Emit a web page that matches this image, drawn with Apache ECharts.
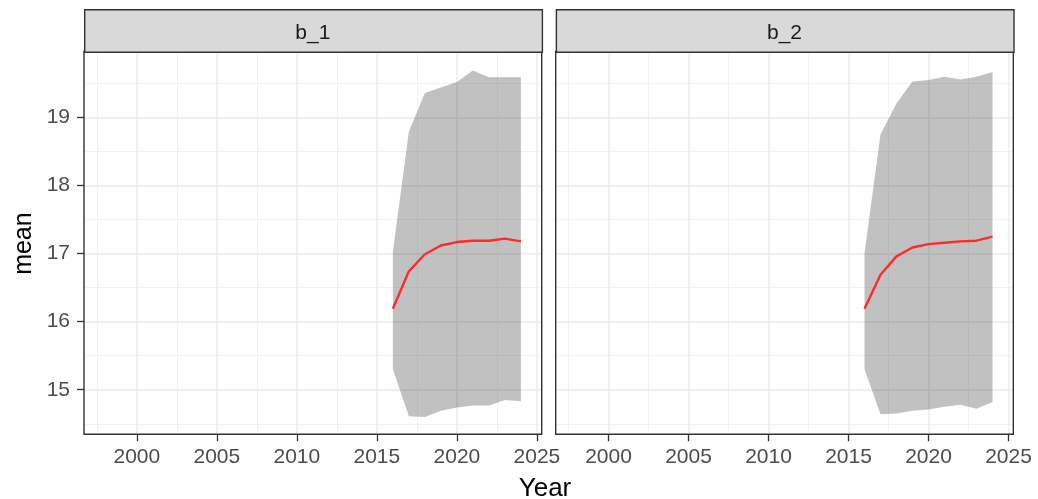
<!DOCTYPE html>
<html>
<head>
<meta charset="utf-8">
<script src="https://cdn.jsdelivr.net/npm/echarts@6/dist/echarts.min.js"></script>
<style>
html,body{margin:0;padding:0;background:#fff;}
#c{width:1038px;height:499px;}
</style>
</head>
<body>
<div id="c"></div>
<script>
// ---- data ----
const panels = ['b_1', 'b_2'];
const years = [2016, 2017, 2018, 2019, 2020, 2021, 2022, 2023, 2024];
const b1_mean  = [16.19, 16.74, 16.99, 17.12, 17.17, 17.19, 17.19, 17.22, 17.18];
const b1_lower = [15.30, 14.61, 14.60, 14.69, 14.74, 14.77, 14.77, 14.85, 14.83];
const b1_upper = [17.03, 18.79, 19.36, 19.44, 19.52, 19.69, 19.59, 19.59, 19.59];
const b2_mean  = [16.19, 16.69, 16.96, 17.09, 17.14, 17.16, 17.18, 17.19, 17.25];
const b2_lower = [15.30, 14.64, 14.65, 14.69, 14.71, 14.75, 14.78, 14.72, 14.82];
const b2_upper = [17.01, 18.75, 19.21, 19.53, 19.55, 19.60, 19.56, 19.60, 19.67];
const xTicks = [2000, 2005, 2010, 2015, 2020, 2025];
const xMinor = [1997.5, 2002.5, 2007.5, 2012.5, 2017.5, 2022.5];
const yTicks = [15, 16, 17, 18, 19];
const yMinor = [14.5, 15.5, 16.5, 17.5, 18.5, 19.5];
const X_MIN = 1996.7, X_MAX = 2025.3;
const Y_MIN = 14.345, Y_MAX = 19.97;

const means = [b1_mean, b2_mean];
const lowers = [b1_lower, b2_lower];
const uppers = [b1_upper, b2_upper];

const FONT = 'Liberation Sans, Arial, sans-serif';
const grids = [
  {left: 84, top: 51.5, width: 457.7, height: 382.8},
  {left: 555.7, top: 51.5, width: 457.6, height: 382.8}
];

const xAxes = [], yAxes = [];
grids.forEach((g, gi) => {
  // minor axes (gridlines only)
  xAxes.push({type: 'value', gridIndex: gi, position: 'bottom', min: X_MIN, max: X_MAX,
    axisLine: {show: false}, axisTick: {show: false, customValues: xMinor},
    axisLabel: {show: false, customValues: xMinor},
    splitLine: {show: true, lineStyle: {color: '#F2F2F2', width: 1}}});
  yAxes.push({type: 'value', gridIndex: gi, position: 'left', min: Y_MIN, max: Y_MAX,
    axisLine: {show: false}, axisTick: {show: false, customValues: yMinor},
    axisLabel: {show: false, customValues: yMinor},
    splitLine: {show: true, lineStyle: {color: '#F2F2F2', width: 1}}});
});
grids.forEach((g, gi) => {
  xAxes.push({type: 'value', gridIndex: gi, position: 'bottom', min: X_MIN, max: X_MAX,
    axisLine: {show: false},
    axisTick: {show: true, length: 7, customValues: xTicks, lineStyle: {color: '#333333', width: 1.3}},
    axisLabel: {customValues: xTicks, color: '#4D4D4D', fontSize: 21, fontFamily: FONT, margin: 12,
      formatter: v => String(v)},
    splitLine: {show: true, lineStyle: {color: '#EBEBEB', width: 1.5}}});
  yAxes.push({type: 'value', gridIndex: gi, position: 'left', min: Y_MIN, max: Y_MAX,
    axisLine: {show: false},
    axisTick: {show: gi === 0, length: 7, customValues: yTicks, lineStyle: {color: '#333333', width: 1.3}},
    axisLabel: {show: gi === 0, customValues: yTicks, color: '#4D4D4D', fontSize: 21, fontFamily: FONT, margin: 14,
      formatter: v => String(v)},
    splitLine: {show: true, lineStyle: {color: '#EBEBEB', width: 1.5}}});
});

const series = [];
panels.forEach((p, gi) => {
  const xi = 2 + gi, yi = 2 + gi;
  series.push({type: 'custom', xAxisIndex: xi, yAxisIndex: yi, silent: true, z: 2,
    data: years.map((y, i) => [y, lowers[gi][i], uppers[gi][i]]),
    encode: {x: 0, y: [1, 2]},
    renderItem: function (params, api) {
      if (params.dataIndex !== 0) return null;
      const pts = [];
      years.forEach((y, i) => pts.push(api.coord([y, uppers[gi][i]])));
      for (let i = years.length - 1; i >= 0; i--) pts.push(api.coord([years[i], lowers[gi][i]]));
      return {type: 'polygon', shape: {points: pts}, style: {fill: 'rgba(51,51,51,0.3)', stroke: null}};
    }});
  series.push({type: 'line', xAxisIndex: xi, yAxisIndex: yi,
    data: years.map((y, i) => [y, means[gi][i]]), symbol: 'none',
    lineStyle: {color: '#FF2A2A', width: 2.4}, z: 3});
});

const graphic = [];
grids.forEach((g, gi) => {
  graphic.push({type: 'rect', left: g.left, top: 9, z: 10,
    shape: {width: g.width, height: 42.5},
    style: {fill: '#D9D9D9', stroke: '#333333', lineWidth: 1.4}});
  graphic.push({type: 'text', z: 11,
    x: g.left + g.width / 2, y: 33,
    style: {text: panels[gi], fill: '#1A1A1A', font: '21px ' + FONT, align: 'center', verticalAlign: 'middle'}});
});
graphic.push({type: 'text', x: 545, y: 489, z: 11,
  style: {text: 'Year', fill: '#000', font: '26px ' + FONT, align: 'center', verticalAlign: 'middle'}});
graphic.push({type: 'text', x: 24, y: 243.6, rotation: Math.PI / 2, z: 11,
  style: {text: 'mean', fill: '#000', font: '25px ' + FONT, align: 'center', verticalAlign: 'middle'}});

const chart = echarts.init(document.getElementById('c'), null, {renderer: 'canvas'});
chart.setOption({
  animation: false,
  backgroundColor: '#FFFFFF',
  grid: grids.map(g => Object.assign({show: true, borderColor: '#333333', borderWidth: 1.4, backgroundColor: 'transparent', containLabel: false, z: 5}, g)),
  xAxis: xAxes,
  yAxis: yAxes,
  series: series,
  graphic: graphic
});
</script>
</body>
</html>
